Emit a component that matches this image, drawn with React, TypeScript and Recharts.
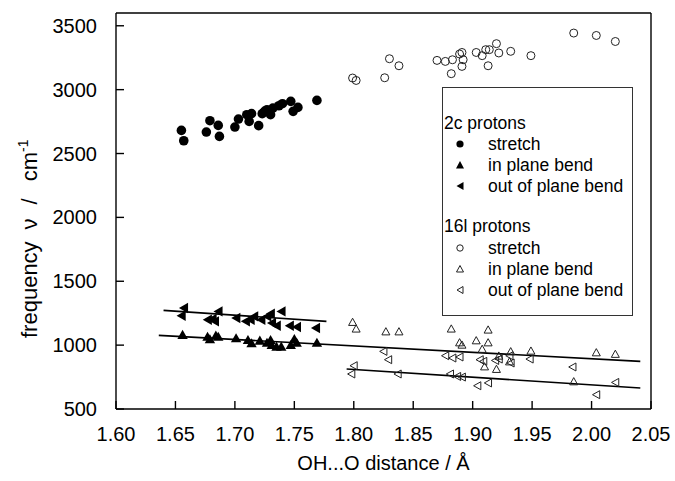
import React from 'react';
import { ScatterChart, Scatter, XAxis, YAxis } from 'recharts';

// ---- data: OH...O distance (Å) vs frequency (cm^-1) ----
const xTicks = [1.6, 1.65, 1.7, 1.75, 1.8, 1.85, 1.9, 1.95, 2.0, 2.05];
const yTicks = [500, 1000, 1500, 2000, 2500, 3000, 3500];

const stretch2c: [number, number][] = [
  [1.655, 2681], [1.657, 2600], [1.679, 2757], [1.676, 2668], [1.686, 2720], [1.687, 2634],
  [1.703, 2770], [1.700, 2707], [1.710, 2804], [1.714, 2812], [1.712, 2751], [1.720, 2718],
  [1.723, 2812], [1.725, 2830], [1.727, 2843], [1.730, 2804], [1.732, 2856], [1.737, 2874],
  [1.740, 2890], [1.747, 2908], [1.749, 2830], [1.753, 2861], [1.769, 2916],
];
const inPlane2c: [number, number][] = [
  [1.656, 1082], [1.677, 1068], [1.679, 1048], [1.684, 1076], [1.686, 1068], [1.701, 1056],
  [1.711, 1042], [1.714, 1017], [1.721, 1037], [1.727, 1021], [1.730, 1042], [1.731, 1003],
  [1.735, 990], [1.739, 990], [1.747, 1003], [1.750, 1050], [1.752, 1021], [1.769, 1021],
];
const outPlane2c: [number, number][] = [
  [1.657, 1291], [1.655, 1230], [1.686, 1264], [1.677, 1199], [1.683, 1186], [1.681, 1205],
  [1.701, 1212], [1.709, 1186], [1.713, 1199], [1.716, 1225], [1.722, 1199], [1.727, 1225],
  [1.730, 1246], [1.731, 1173], [1.735, 1152], [1.739, 1264], [1.746, 1152], [1.752, 1142],
  [1.768, 1134],
];
const stretch16l: [number, number][] = [
  [1.799, 3091], [1.802, 3072], [1.830, 3242], [1.838, 3187], [1.826, 3093], [1.870, 3229],
  [1.877, 3221], [1.883, 3234], [1.882, 3125], [1.889, 3279], [1.891, 3291], [1.892, 3234],
  [1.891, 3182], [1.903, 3291], [1.908, 3266], [1.911, 3313], [1.914, 3313], [1.920, 3360],
  [1.913, 3187], [1.922, 3287], [1.932, 3300], [1.949, 3266], [1.985, 3443], [2.004, 3424],
  [2.020, 3377],
];
const inPlane16l: [number, number][] = [
  [1.799, 1181], [1.802, 1129], [1.827, 1107], [1.838, 1107], [1.882, 1129], [1.913, 1121],
  [1.889, 1021], [1.891, 1003], [1.903, 1037], [1.913, 1021], [1.908, 970], [1.922, 917],
  [1.932, 951], [1.949, 956], [2.004, 943], [2.020, 931], [1.910, 833], [1.920, 813],
  [1.985, 716], [1.931, 872],
];
const outPlane16l: [number, number][] = [
  [1.825, 951], [1.829, 886], [1.800, 839], [1.798, 774], [1.837, 774], [1.877, 917],
  [1.883, 899], [1.889, 907], [1.881, 774], [1.887, 755], [1.891, 750], [1.906, 886],
  [1.909, 873], [1.919, 880], [1.922, 891], [1.931, 917], [1.932, 860], [1.948, 891],
  [1.904, 682], [1.913, 704], [1.984, 829], [2.020, 708], [2.004, 612],
];
// linear fits
const fitInPlane: [number, number][] = [[1.636, 1076], [2.041, 873]];
const fitOutPlane2c: [number, number][] = [[1.640, 1272], [1.777, 1186]];
const fitOutPlane16l: [number, number][] = [[1.794, 813], [2.041, 664]];

const toPts = (a: [number, number][]) => a.map(([d, f]) => ({ d, f }));

const FONT = '"Liberation Sans", Arial, Helvetica, sans-serif';

const FilledCircle = (p: any) => <circle cx={p.cx} cy={p.cy} r={4.8} fill="#000" />;
const OpenCircle = (p: any) => <circle cx={p.cx} cy={p.cy} r={4} fill="none" stroke="#222" strokeWidth={1} />;
const FilledUp = (p: any) => {
  const { cx, cy } = p; const w = 5.2, h = 4.8;
  return <path d={`M${cx},${cy - h} L${cx + w},${cy + h * 0.9} L${cx - w},${cy + h * 0.9} Z`} fill="#000" />;
};
const OpenUp = (p: any) => {
  const { cx, cy } = p; const w = 4, h = 3.8;
  return <path d={`M${cx},${cy - h} L${cx + w},${cy + h * 0.9} L${cx - w},${cy + h * 0.9} Z`} fill="none" stroke="#222" strokeWidth={1} />;
};
const FilledLeft = (p: any) => {
  const { cx, cy } = p; const w = 4.8, h = 5.2;
  return <path d={`M${cx - w},${cy} L${cx + w * 0.9},${cy - h} L${cx + w * 0.9},${cy + h} Z`} fill="#000" />;
};
const OpenLeft = (p: any) => {
  const { cx, cy } = p; const w = 3.8, h = 4;
  return <path d={`M${cx - w},${cy} L${cx + w * 0.9},${cy - h} L${cx + w * 0.9},${cy + h} Z`} fill="none" stroke="#222" strokeWidth={1} />;
};
const NoShape = () => <g />;

const LegendMarker = ({ kind }: { kind: string }) => {
  const s = 12, c = 6;
  let el: React.ReactNode = null;
  if (kind === 'fc') el = <circle cx={c} cy={c} r={3.6} fill="#000" />;
  if (kind === 'oc') el = <circle cx={c} cy={c} r={3.2} fill="none" stroke="#222" strokeWidth={1} />;
  if (kind === 'fu') el = <path d="M6,2 L10,9.5 L2,9.5 Z" fill="#000" />;
  if (kind === 'ou') el = <path d="M6,2.5 L9.5,9 L2.5,9 Z" fill="none" stroke="#222" strokeWidth={1} />;
  if (kind === 'fl') el = <path d="M2.5,6 L9.5,2 L9.5,10 Z" fill="#000" />;
  if (kind === 'ol') el = <path d="M3,6 L9,2.5 L9,9.5 Z" fill="none" stroke="#222" strokeWidth={1} />;
  return <svg width={s} height={s} style={{ display: 'block' }}>{el}</svg>;
};

const legendRows = [
  { y: 123, head: '2c protons' },
  { y: 144, mk: 'fc', text: 'stretch' },
  { y: 165, mk: 'fu', text: 'in plane bend' },
  { y: 186, mk: 'fl', text: 'out of plane bend' },
  { y: 226, head: '16l protons' },
  { y: 248, mk: 'oc', text: 'stretch' },
  { y: 269, mk: 'ou', text: 'in plane bend' },
  { y: 290, mk: 'ol', text: 'out of plane bend' },
];

export default function App() {
  const axisLine = { stroke: '#000', strokeWidth: 1.4 };
  const tickLine = { stroke: '#000', strokeWidth: 1.4 };
  return (
    <div style={{ position: 'absolute', left: 0, top: 0, width: 675, height: 481, background: '#fff', fontFamily: FONT }}>
      <ScatterChart width={675} height={481} margin={{ top: 12, right: 23, bottom: 0, left: 0 }} style={{ fontFamily: FONT }}>
        <XAxis
          xAxisId={0} type="number" dataKey="d" domain={[1.6, 2.05]} ticks={xTicks} allowDataOverflow
          tickFormatter={(v: number) => v.toFixed(2)} height={72} tickSize={-8} tickMargin={26}
          axisLine={axisLine} tickLine={tickLine} tick={{ fill: '#000', fontSize: 20, fontFamily: FONT }} interval={0}
          label={(props: any) => {
            const vb = props.viewBox || {};
            return (
              <text x={vb.x + vb.width / 2} y={vb.y + 61} textAnchor="middle" fill="#000" fontSize={20} fontFamily={FONT}>
                OH...O distance / Å
              </text>
            );
          }}
        />
        <XAxis xAxisId="top" orientation="top" type="number" domain={[1.6, 2.05]} ticks={xTicks} allowDataOverflow
          height={1} tick={false} tickSize={-8} axisLine={axisLine} tickLine={tickLine} interval={0} />
        <YAxis
          yAxisId={0} type="number" dataKey="f" domain={[500, 3600]} ticks={yTicks} allowDataOverflow
          width={116} tickSize={-8} tickMargin={27} axisLine={axisLine} tickLine={tickLine}
          tick={{ fill: '#000', fontSize: 20, fontFamily: FONT }} interval={0}
          label={() => {
            const x = 37, y = 338;
            return (
              <text x={x} y={y} transform={`rotate(-90, ${x}, ${y})`} textAnchor="start" fill="#000" fontSize={22} fontFamily={FONT}>
                frequency<tspan dx={12}>ν</tspan><tspan dx={14}>/</tspan><tspan dx={17}>cm</tspan>
                <tspan dy={-9} fontSize={14}>-1</tspan>
              </text>
            );
          }}
        />
        <YAxis yAxisId="right" orientation="right" type="number" domain={[500, 3600]} ticks={yTicks} allowDataOverflow
          width={1} tick={false} tickSize={-8} axisLine={axisLine} tickLine={tickLine} interval={0} />

        <Scatter data={toPts(fitInPlane)} line={{ stroke: '#000', strokeWidth: 1.6 }} shape={NoShape} isAnimationActive={false} legendType="none" />
        <Scatter data={toPts(fitOutPlane2c)} line={{ stroke: '#000', strokeWidth: 1.6 }} shape={NoShape} isAnimationActive={false} legendType="none" />
        <Scatter data={toPts(fitOutPlane16l)} line={{ stroke: '#000', strokeWidth: 1.6 }} shape={NoShape} isAnimationActive={false} legendType="none" />

        <Scatter data={toPts(stretch2c)} shape={FilledCircle} isAnimationActive={false} />
        <Scatter data={toPts(inPlane2c)} shape={FilledUp} isAnimationActive={false} />
        <Scatter data={toPts(outPlane2c)} shape={FilledLeft} isAnimationActive={false} />
        <Scatter data={toPts(stretch16l)} shape={OpenCircle} isAnimationActive={false} />
        <Scatter data={toPts(inPlane16l)} shape={OpenUp} isAnimationActive={false} />
        <Scatter data={toPts(outPlane16l)} shape={OpenLeft} isAnimationActive={false} />
      </ScatterChart>

      <div style={{ position: 'absolute', left: 442, top: 87, width: 191, height: 229, border: '1.3px solid #333', background: '#fff', boxSizing: 'border-box' }} />
      {legendRows.map((r, i) => (
        <div key={i} style={{ position: 'absolute', left: 0, top: r.y - 11, height: 22, width: 675, pointerEvents: 'none' }}>
          {r.head ? (
            <span style={{ position: 'absolute', left: 444, top: 0, lineHeight: '22px', fontSize: 17.5, color: '#000', whiteSpace: 'nowrap' }}>{r.head}</span>
          ) : (
            <>
              <span style={{ position: 'absolute', left: 454, top: 5 }}><LegendMarker kind={r.mk as string} /></span>
              <span style={{ position: 'absolute', left: 488, top: 0, lineHeight: '22px', fontSize: 17.5, color: '#000', whiteSpace: 'nowrap' }}>{r.text}</span>
            </>
          )}
        </div>
      ))}
    </div>
  );
}
